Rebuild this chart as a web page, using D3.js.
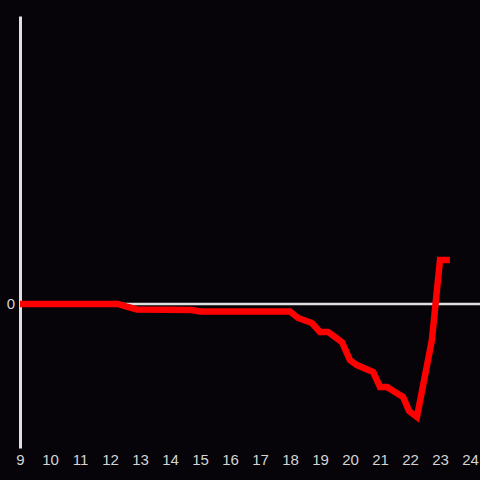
<!DOCTYPE html>
<html>
<head>
<meta charset="utf-8">
<script src="https://cdn.jsdelivr.net/npm/d3@7"></script>
<style>
  html, body { margin: 0; padding: 0; background: #060408; }
  #chart { width: 480px; height: 480px; }
</style>
</head>
<body>
<div id="chart"></div>
<script>
// hours of day (x) and values (y)
var hours = [9.0, 12.27, 12.5, 12.9, 14.73, 15.0, 18.0, 18.27, 18.73, 19.0, 19.27, 19.73,
             20.0, 20.23, 20.77, 21.0, 21.23, 21.77, 21.97, 22.23, 22.73, 23.0, 23.33];
var values = [0, 0, -0.015, -0.038, -0.042, -0.052, -0.052, -0.097, -0.132, -0.194, -0.194, -0.264,
              -0.389, -0.424, -0.472, -0.576, -0.576, -0.646, -0.743, -0.785, -0.25, 0.306, 0.306];
var xTicks = [9, 10, 11, 12, 13, 14, 15, 16, 17, 18, 19, 20, 21, 22, 23, 24];
var yTicks = [0];

var data = hours.map(function (h, i) { return { hour: h, value: values[i] }; });

var width = 480, height = 480;

var svg = d3.select("#chart")
  .append("svg")
  .attr("width", width)
  .attr("height", height);

svg.append("rect")
  .attr("width", width)
  .attr("height", height)
  .attr("fill", "#060408");

// set the ranges
var x = d3.scaleLinear().domain([9, 24]).range([20, 470]);
var y = d3.scaleLinear().domain([-1, 2]).range([448, 16]);

// x axis (labels only)
var xAxis = svg.append("g")
  .attr("transform", "translate(0,448)")
  .call(d3.axisBottom(x).tickValues(xTicks).tickSize(0).tickPadding(6).tickFormat(d3.format("d")));
xAxis.select(".domain").remove();
xAxis.selectAll("text")
  .attr("fill", "#d4d4d4")
  .style("font-family", "Liberation Sans, Arial, sans-serif")
  .style("font-size", "15px");

// y axis
var yAxis = svg.append("g")
  .attr("transform", "translate(20,0)")
  .call(d3.axisLeft(y).tickValues(yTicks).tickSize(0).tickPadding(5).tickFormat(d3.format("d")));
yAxis.select(".domain")
  .attr("stroke", "#e0e0e0")
  .attr("stroke-width", 3);
yAxis.selectAll("text")
  .attr("fill", "#d4d4d4")
  .style("font-family", "Liberation Sans, Arial, sans-serif")
  .style("font-size", "15px");

// zero line
svg.append("line")
  .attr("x1", x(9))
  .attr("x2", 480)
  .attr("y1", y(0))
  .attr("y2", y(0))
  .attr("stroke", "#e0e0e0")
  .attr("stroke-width", 2.5);

// define the line
var valueline = d3.line()
  .x(function (d) { return x(d.hour); })
  .y(function (d) { return y(d.value); });

svg.append("path")
  .datum(data)
  .attr("d", valueline)
  .attr("fill", "none")
  .attr("stroke", "#ff0000")
  .attr("stroke-width", 6.5);
</script>
</body>
</html>
